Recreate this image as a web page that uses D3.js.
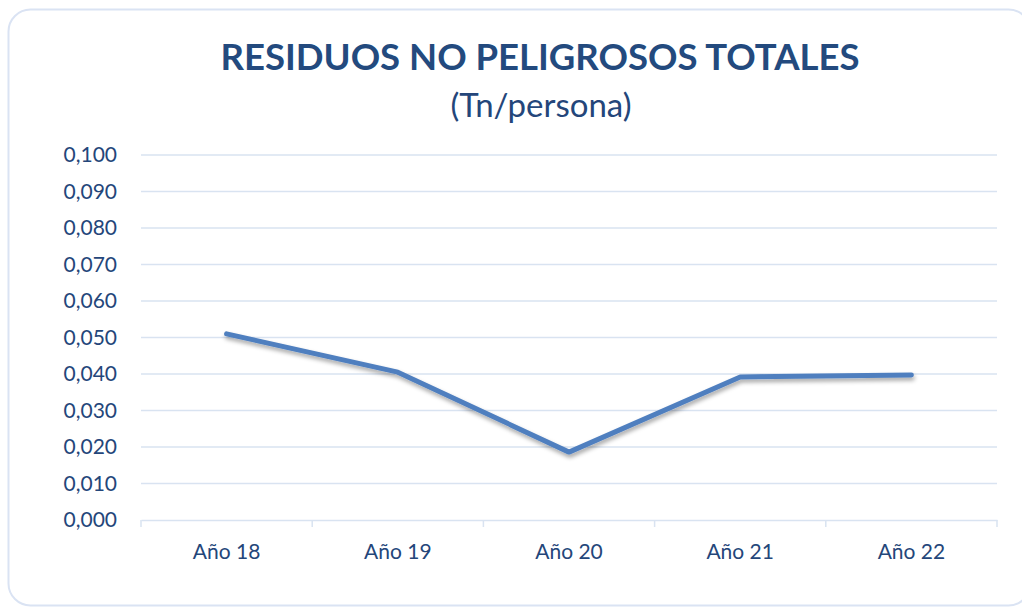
<!DOCTYPE html>
<html>
<head>
<meta charset="utf-8">
<script src="https://cdn.jsdelivr.net/npm/d3@7"></script>
<style>
  body { margin: 0; background: #fff; }
  svg text { font-family: Lato, "Open Sans", sans-serif; fill: #24467a; }
</style>
</head>
<body>
<svg id="chart" width="1022" height="607"></svg>
<script>
const years = ["Año 18", "Año 19", "Año 20", "Año 21", "Año 22"];
const values = [0.0510, 0.0405, 0.0186, 0.0392, 0.0397];
const yTicks = [0, 0.01, 0.02, 0.03, 0.04, 0.05, 0.06, 0.07, 0.08, 0.09, 0.1];

const svg = d3.select("#chart");
const margin = { left: 141, right: 25, top: 155, bottom: 87 };
const W = 1022, H = 607;

// card border
svg.append("rect")
  .attr("x", 8.5).attr("y", 9.5)
  .attr("width", 1022).attr("height", 596)
  .attr("rx", 22)
  .attr("fill", "none")
  .attr("stroke", "#dae3f3")
  .attr("stroke-width", 2);

const x = d3.scaleBand().domain(years).range([margin.left, W - margin.right]);
const y = d3.scaleLinear().domain([0, 0.1]).range([H - margin.bottom, margin.top]);

// gridlines
svg.append("g")
  .selectAll("line")
  .data(yTicks.filter(d => d > 0))
  .enter().append("line")
  .attr("x1", margin.left).attr("x2", W - margin.right)
  .attr("y1", d => y(d)).attr("y2", d => y(d))
  .attr("stroke", "#d9e3f1").attr("stroke-width", 1.5);

// y labels
const fmt = d => d3.format(".3f")(d).replace(".", ",");
svg.append("g")
  .selectAll("text")
  .data(yTicks)
  .enter().append("text")
  .attr("x", 117).attr("y", d => y(d))
  .attr("dy", "0.35em")
  .attr("text-anchor", "end")
  .attr("font-size", 21)
  .text(fmt);

// x axis
const xAxis = svg.append("g")
  .attr("transform", `translate(0,${y(0)})`)
  .call(d3.axisBottom(x).tickSize(0).tickPadding(24));
xAxis.select(".domain").attr("stroke", "#d9e3f1").attr("stroke-width", 1.5);
xAxis.selectAll("text").attr("font-size", 21).attr("fill", "#24467a").style("font-family", "Lato, sans-serif");
const bounds = years.map(d => x(d)).concat([x.range()[1]]);
xAxis.selectAll(".bound")
  .data(bounds)
  .enter().append("line")
  .attr("x1", d => d).attr("x2", d => d)
  .attr("y1", 0).attr("y2", 7)
  .attr("stroke", "#d9e3f1").attr("stroke-width", 1.5);

// shadow
const defs = svg.append("defs");
const f = defs.append("filter").attr("id", "sh").attr("x", "-10%").attr("y", "-30%").attr("width", "120%").attr("height", "160%");
f.append("feDropShadow").attr("dx", 1).attr("dy", 3).attr("stdDeviation", 2).attr("flood-color", "#000").attr("flood-opacity", 0.35);

const line = d3.line()
  .x((d, i) => x(years[i]) + x.bandwidth() / 2)
  .y(d => y(d));

svg.append("path")
  .datum(values)
  .attr("d", line)
  .attr("fill", "none")
  .attr("stroke", "#4f7fbf")
  .attr("stroke-width", 5)
  .attr("stroke-linecap", "round")
  .attr("stroke-linejoin", "round")
  .attr("filter", "url(#sh)");

// title
svg.append("text")
  .attr("x", 540).attr("y", 70)
  .attr("text-anchor", "middle")
  .attr("font-size", 36.5)
  .attr("font-weight", "bold")
  .style("fill", "#234a7e")
  .text("RESIDUOS NO PELIGROSOS TOTALES");

svg.append("text")
  .attr("x", 541).attr("y", 117)
  .attr("text-anchor", "middle")
  .attr("font-size", 33)
  .text("(Tn/persona)");
</script>
</body>
</html>
